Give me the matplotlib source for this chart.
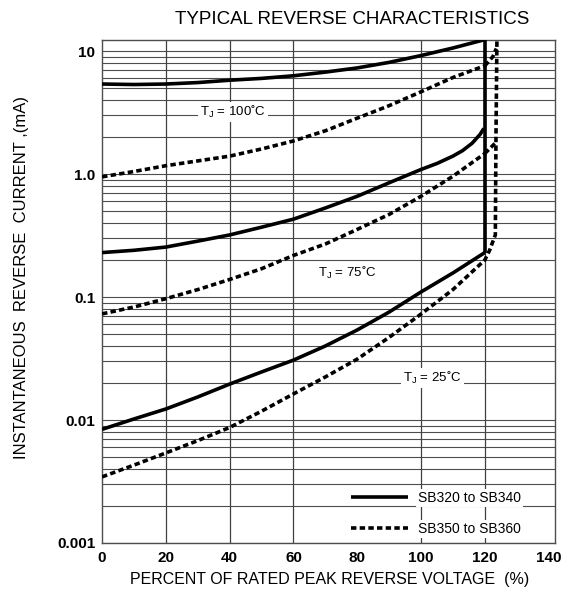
import numpy as np
import matplotlib
matplotlib.use("Agg")
import matplotlib.pyplot as plt

plt.rcParams['font.family'] = ['Liberation Sans', 'DejaVu Sans']

# percent of rated peak reverse voltage
volt = [0, 10, 20, 30, 40, 50, 60, 70, 80, 90, 100, 110, 120]

# SB320 to SB340 (solid), mA
solid_100 = [5.4, 5.35, 5.4, 5.55, 5.8, 6.0, 6.3, 6.75, 7.3, 8.1, 9.2, 10.6, 12.4]
solid_25 = [0.0084, 0.0102, 0.0123, 0.0154, 0.0196, 0.0246, 0.0307, 0.040, 0.054,
            0.0755, 0.11, 0.157, 0.23]
# 75 C solid bends up sharply just before 120 %
volt_75 = [0, 10, 20, 30, 40, 50, 60, 70, 80, 90, 100, 105, 110, 113, 116, 118.5, 119.7]
solid_75 = [0.23, 0.24, 0.255, 0.285, 0.32, 0.37, 0.43, 0.53, 0.66, 0.85, 1.09, 1.22,
            1.40, 1.55, 1.78, 2.1, 2.35]

# SB350 to SB360 (dotted), mA
dot_100 = [0.95, 1.05, 1.17, 1.28, 1.4, 1.6, 1.86, 2.25, 2.85, 3.6, 4.67, 6.1, 7.6]
dot_75 = [0.073, 0.083, 0.097, 0.115, 0.139, 0.17, 0.218, 0.27, 0.355, 0.47, 0.66,
          0.96, 1.47]
dot_25 = [0.00345, 0.0043, 0.0054, 0.0068, 0.0087, 0.0118, 0.0163, 0.0224, 0.0313,
          0.047, 0.0727, 0.115, 0.2]

# breakdown tails near 120-124 %
dot_tail_x = [121.5, 123.3, 123.5, 123.8]
dot_tail_y = [0.24, 0.32, 2.0, 12.4]
dot_75_end_x = [120, 123.4]
dot_75_end_y = [1.47, 1.8]
dot_100_end_x = [120, 122.5, 123.6]
dot_100_end_y = [7.6, 9.0, 10.5]

xticks = [0, 20, 40, 60, 80, 100, 120, 140]
xgrid = [20, 40, 60, 100, 120]
yticks = [0.001, 0.01, 0.1, 1.0, 10]
ylabels = ['0.001', '0.01', '0.1', '1.0', '10']

labels = ['T$_\\mathregular{J}$ = 100\u02daC', 'T$_\\mathregular{J}$ = 75\u02daC',
          'T$_\\mathregular{J}$ = 25\u02daC']
label_x = [41, 77, 103.5]
label_y = [3.2, 0.157, 0.022]

fig = plt.figure(figsize=(5.64, 5.95), dpi=100)
ax = fig.add_axes([0.181, 0.0874, 0.803, 0.846])
ax.set_yscale('log')
ax.set_xlim(0, 142)
ax.set_ylim(0.001, 12.4)

# grid
for v in xgrid:
    ax.axvline(v, color='0.25', lw=0.9, zorder=1)
ax.yaxis.grid(True, which='both', color='0.3', lw=0.8, zorder=1)
ax.set_axisbelow(True)

solid_kw = dict(color='black', lw=2.6, solid_capstyle='butt', solid_joinstyle='round', zorder=3)
dot_kw = dict(color='black', lw=2.6, linestyle=(0, (1.5, 0.9)), zorder=3)

ax.plot(volt, solid_100, **solid_kw)
ax.plot(volt_75, solid_75, **solid_kw)
ax.plot(volt, solid_25, **solid_kw)
ax.plot([volt[-1], volt[-1]], [solid_25[-1], solid_100[-1]], **solid_kw)

ax.plot(volt, dot_100, **dot_kw)
ax.plot(volt, dot_75, **dot_kw)
ax.plot(volt + dot_tail_x, dot_25 + dot_tail_y, **dot_kw)
ax.plot(dot_75_end_x, dot_75_end_y, **dot_kw)
ax.plot(dot_100_end_x, dot_100_end_y, **dot_kw)

# legend proxies
ax.plot([], [], label='SB320 to SB340', **solid_kw)
ax.plot([], [], label='SB350 to SB360', **dot_kw)
leg = ax.legend(loc='lower right', bbox_to_anchor=(0.925, 0.014), frameon=False,
                fontsize=10, handlelength=4.1, handletextpad=0.7, labelspacing=1.2,
                borderaxespad=0, borderpad=0)
for t in leg.get_texts():
    t.set_bbox(dict(facecolor='white', edgecolor='none', pad=1.5))

for s, xx, yy in zip(labels, label_x, label_y):
    ax.text(xx, yy, s, fontsize=9.5, ha='center', va='center', zorder=4,
            bbox=dict(facecolor='white', edgecolor='none', pad=1.5))

ax.set_xticks(xticks)
ax.set_yticks(yticks)
ax.set_yticklabels(ylabels)
ax.yaxis.set_minor_formatter(matplotlib.ticker.NullFormatter())
ax.tick_params(which='both', length=0, labelsize=11)
ax.tick_params(axis='y', pad=5)
ax.tick_params(axis='x', pad=6)
for lab in ax.get_xticklabels() + ax.get_yticklabels():
    lab.set_fontweight('bold')
for sp in ax.spines.values():
    sp.set_linewidth(1.0)
    sp.set_color('0.3')

fig.text(0.624, 0.968, 'TYPICAL REVERSE CHARACTERISTICS', ha='center', va='center', fontsize=13.5)
fig.text(0.584, 0.026, 'PERCENT OF RATED PEAK REVERSE VOLTAGE  (%)', ha='center', va='center',
         fontsize=11.5)
fig.text(0.039, 0.533, 'INSTANTANEOUS  REVERSE  CURRENT ,(mA)', ha='center', va='center',
         rotation=90, fontsize=12)

fig.savefig('out.png', dpi=100)
